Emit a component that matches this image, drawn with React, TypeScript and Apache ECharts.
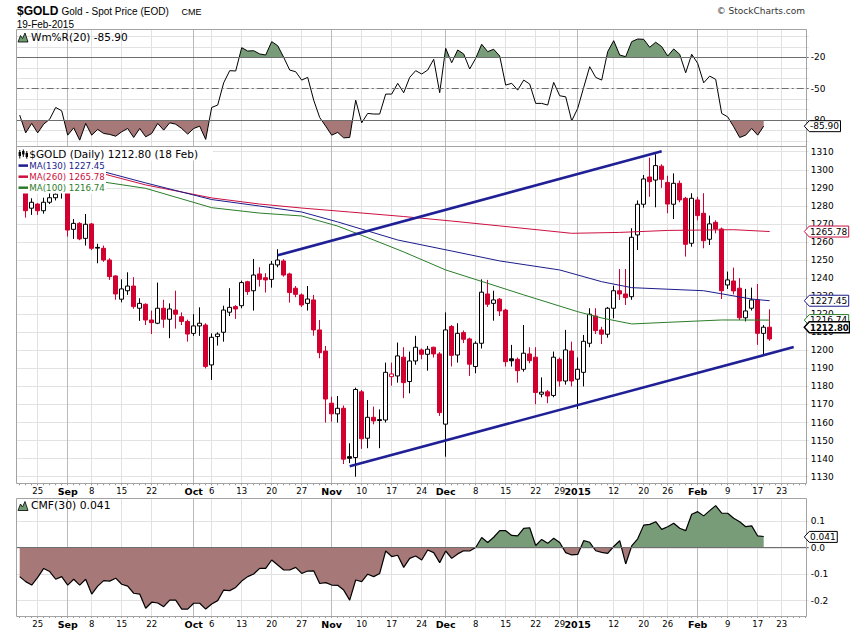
import React, { useEffect, useRef } from "react";
import * as echarts from "echarts";

// ---------------- data ----------------
const AUG_DAYS = [20, 21, 22, 25, 26, 27, 28, 29];
const SEP_DAYS = [2, 3, 4, 5, 8, 9, 10, 11, 12, 15, 16, 17, 18, 19, 22, 23, 24, 25, 26, 29, 30];
const OCT_DAYS = [1, 2, 3, 6, 7, 8, 9, 10, 13, 14, 15, 16, 17, 20, 21, 22, 23, 24, 27, 28, 29, 30, 31];
const NOV_DAYS = [3, 4, 5, 6, 7, 10, 11, 12, 13, 14, 17, 18, 19, 20, 21, 24, 25, 26, 28];
const DEC_DAYS = [1, 2, 3, 4, 5, 8, 9, 10, 11, 12, 15, 16, 17, 18, 19, 22, 23, 24, 26, 29, 30, 31];
const JAN_DAYS = [2, 5, 6, 7, 8, 9, 12, 13, 14, 15, 16, 20, 21, 22, 23, 26, 27, 28, 29, 30];
const FEB_DAYS = [2, 3, 4, 5, 6, 9, 10, 11, 12, 13, 17, 18, 19, 20, 23, 24, 25, 26, 27];

const OPEN = [
  1296, 1293, 1278.7, 1281, 1277.3, 1282, 1284.5, 1288, 1288, 1267,
  1270.3, 1262, 1270, 1257, 1256.5, 1250, 1241.2, 1228.3, 1233, 1235.6,
  1223.3, 1225.5, 1216.8, 1215, 1223.3, 1217.2, 1222.3, 1218.6, 1216, 1209.4,
  1213.5, 1214, 1191.9, 1207.6, 1210, 1221.1, 1224.2, 1224.7, 1238, 1233,
  1242.3, 1240.2, 1239.3, 1247.3, 1249.5, 1242.3, 1234.4, 1230.7, 1226, 1227.9,
  1211.3, 1199.6, 1170.7, 1164.8, 1167.9, 1141.1, 1140.6, 1177, 1151.3, 1162.9,
  1161.6, 1161.4, 1185.4, 1185.8, 1196.2, 1182.7, 1194.1, 1200.2, 1197.8, 1201.7,
  1198, 1159.1, 1213.2, 1197.4, 1209.8, 1206.3, 1191, 1203.9, 1231.2, 1226,
  1228.3, 1222.3, 1195.3, 1195, 1189.5, 1198, 1196.2, 1175.7, 1177, 1175,
  1195, 1183, 1199.6, 1184, 1187.8, 1203.9, 1219, 1211.3, 1208.9, 1223.3,
  1233, 1231.2, 1229.7, 1263.9, 1280.9, 1296, 1294.3, 1302, 1293, 1280.9,
  1292.5, 1284.2, 1259.3, 1283.3, 1275.9, 1261.5, 1270.9, 1267.2, 1236.2, 1238.4,
  1234.4, 1218, 1223.3, 1227.9, 1209.4, 1212.8,
];
const HIGH = [
  1298, 1294, 1284.2, 1281.5, 1284.5, 1288, 1292, 1292, 1290, 1272.7,
  1271, 1275.5, 1270.5, 1259, 1258, 1251, 1241.5, 1239.3, 1243.2, 1240.5,
  1228.8, 1226, 1222, 1237.5, 1228, 1226, 1233, 1221, 1217, 1220,
  1223.8, 1215, 1209.4, 1210, 1224.7, 1234.4, 1225, 1238.6, 1238.5, 1250.6,
  1246, 1242.7, 1249.5, 1256, 1250.5, 1243, 1235.6, 1231.5, 1235.6, 1230.7,
  1216.8, 1202.4, 1174.3, 1174.7, 1169.4, 1148.5, 1179.3, 1178, 1172.5, 1168.8,
  1167.3, 1193.2, 1193.2, 1204.3, 1201.7, 1199.3, 1208, 1201, 1202.4, 1202,
  1199, 1221, 1214, 1215, 1211, 1207, 1205, 1239.3, 1239, 1233,
  1229, 1223, 1203, 1196, 1214, 1201.7, 1201.7, 1185, 1178, 1199.3,
  1196, 1211.3, 1204.8, 1196, 1208.5, 1223.3, 1223.3, 1213, 1224, 1235.8,
  1245, 1245, 1267.6, 1283, 1297.1, 1306.7, 1308.6, 1303, 1296.7, 1298,
  1294, 1285, 1287, 1285, 1287, 1274.6, 1272, 1268, 1243.6, 1245.8,
  1240, 1234, 1234.7, 1236.7, 1214, 1222.7,
];
const LOW = [
  1291, 1273.5, 1275, 1275, 1275.7, 1281, 1283, 1284, 1263, 1261.7,
  1261, 1258, 1255.5, 1248.2, 1249, 1239, 1228, 1226.6, 1230.7, 1223,
  1216.3, 1214, 1209, 1214.5, 1212.5, 1206.7, 1212, 1214, 1204.8, 1208,
  1208, 1190, 1183.6, 1202.6, 1204.8, 1219, 1217.4, 1223.3, 1230.7, 1222,
  1235.3, 1232, 1234.7, 1246, 1240.8, 1226.4, 1229.4, 1224, 1222, 1208.1,
  1195.6, 1160, 1160.5, 1160, 1137, 1137.5, 1130, 1145.4, 1145.8, 1159,
  1145.8, 1160, 1180.4, 1182.1, 1173.5, 1176.2, 1192, 1195, 1188.7, 1196,
  1163.7, 1141.1, 1191.1, 1193.2, 1204, 1185.8, 1187.3, 1201, 1224, 1216.4,
  1219, 1191, 1191, 1182.1, 1188.2, 1192.8, 1170.1, 1174, 1170.7, 1174,
  1179.9, 1181, 1180, 1167.5, 1180, 1201.7, 1209, 1203.5, 1207, 1217.7,
  1227.9, 1225.1, 1228, 1255.6, 1279, 1285, 1279.2, 1290, 1275.9, 1272.7,
  1282, 1251.9, 1257.4, 1272, 1256.5, 1258.3, 1264.8, 1228.4, 1234, 1231,
  1216.8, 1216, 1222, 1203, 1197.4, 1205.3,
];
const CLOSE = [
  1293, 1277.3, 1282, 1277.3, 1282, 1284.5, 1286.5, 1287.5, 1266.6, 1270.3,
  1261.7, 1269.8, 1256.5, 1256.6, 1250, 1240.8, 1231.2, 1234, 1235.6, 1224.2,
  1226, 1216.8, 1215.3, 1223.3, 1217.2, 1222.9, 1220, 1216, 1209, 1213.5,
  1215, 1191, 1207.2, 1209, 1222.3, 1223.8, 1222.9, 1237.5, 1232.5, 1241.7,
  1239.3, 1239, 1247.7, 1250, 1241.7, 1232, 1231, 1225.1, 1228.4, 1211.3,
  1198.7, 1173, 1164.8, 1167.9, 1139.7, 1140.2, 1178.3, 1151, 1162.9, 1160.9,
  1161.1, 1187.8, 1186.9, 1196.9, 1182.1, 1194.1, 1201.7, 1197.8, 1200.6, 1198,
  1165.5, 1211.3, 1197.2, 1209.4, 1206.1, 1192.3, 1203.9, 1232.2, 1225.5, 1227.9,
  1221.8, 1193.7, 1194.2, 1188.7, 1198.4, 1194.3, 1176.6, 1176.8, 1174.7, 1196.2,
  1183, 1200.2, 1183, 1189.5, 1205, 1220, 1210.9, 1208.9, 1223.3, 1233,
  1231.2, 1229.2, 1262.6, 1280.9, 1294.9, 1293.4, 1302.3, 1294.7, 1281, 1292.5,
  1283.3, 1258.7, 1284.2, 1274.6, 1260.7, 1270, 1267.2, 1233, 1239, 1232.9,
  1218, 1221.8, 1227.9, 1209.4, 1212.8, 1206.3,
];

const WMR = [
  -75.3, -92.3, -83.3, -92.3, -84, -79.2, -68, -71.2, -94.5, -87.5,
  -99.3, -83.3, -94.5, -89, -92.9, -93.8, -95.5, -91.3, -88.1, -96.7,
  -88.1, -96.1, -92.9, -83.3, -89.7, -82.7, -84, -88.1, -93.5, -88.1,
  -85.9, -98.6, -68, -65.7, -44.4, -32.8, -33.1, -10.8, -14, -13.7,
  -16.8, -17.8, -5, -8.9, -20, -32.2, -33.8, -41.8, -39.2, -61,
  -77.6, -85.9, -94.5, -91.9, -97.1, -96.7, -61, -82.7, -73.7, -74.3,
  -74.3, -55.2, -55.2, -44.9, -53.9, -39.2, -32.8, -36, -32.2,
  -21.9, -53.9, -11.4, -25.2, -13, -16.8, -31.2, -21, -7.5, -14.6,
  -12.3, -18.8, -46.6, -44.9, -51.4, -41.8, -45.6, -64.1, -64.1, -65.7,
  -44, -56.8, -57.8, -80.8, -68.9, -48.8, -29, -39.2, -41.8, -14.6,
  -4.1, -17.8, -19.4, -5, -2.5, -2.8, -10.4, -5.6, -9.8, -18.8,
  -12, -17.1, -34.8, -17.1, -25.8, -44.4, -38, -41.1, -73.7, -77,
  -86.5, -96.7, -94.5, -88.1, -94.5, -85.9,
];

const CMF = [
  -0.111, -0.13, -0.143, -0.114, -0.08, -0.092, -0.121, -0.111, -0.143, -0.121,
  -0.143, -0.121, -0.177, -0.147, -0.126, -0.128, -0.117, -0.14, -0.147, -0.174,
  -0.177, -0.231, -0.208, -0.211, -0.225, -0.2, -0.2, -0.234, -0.234, -0.212,
  -0.212, -0.234, -0.215, -0.202, -0.162, -0.164, -0.152, -0.128, -0.111, -0.101,
  -0.08, -0.08, -0.048, -0.067, -0.086, -0.086, -0.076, -0.099, -0.09, -0.089,
  -0.137, -0.134, -0.143, -0.144, -0.162, -0.2, -0.124, -0.13, -0.102, -0.111,
  -0.099, -0.014, -0.035, -0.03, -0.076, -0.042, -0.033, -0.048,
  -0.01, -0.02, -0.058, -0.014, -0.042, -0.025, -0.013, -0.014, -0.001, 0.037,
  0.018, 0.038, 0.063, 0.063, 0.045, 0.043, 0.072, 0.074, 0.007, 0.03,
  0.015, 0.034, 0.018, -0.02, -0.029, -0.027, 0.025, 0.019, -0.013, -0.019,
  -0.023, 0.003, 0.025, -0.063, 0.005, 0.032, 0.084, 0.087, 0.097, 0.068,
  0.078, 0.091, 0.072, 0.063, 0.125, 0.135, 0.119, 0.139, 0.158, 0.129,
  0.129, 0.11, 0.097, 0.078, 0.081, 0.043, 0.041,
];

// moving averages read at intervals: [day index, value]
const MA130_POINTS = [[14, 1298.9], [21, 1292.7], [32, 1283.5], [40, 1279.9], [47, 1276.6], [53, 1271.1], [63, 1261.1], [72, 1255], [80, 1249.5], [90, 1244.5], [97, 1238], [102, 1234.7], [114, 1233], [122, 1228.4], [125, 1227.45]];
const MA260_POINTS = [[14, 1297.7], [21, 1291.6], [32, 1284.4], [40, 1281], [47, 1278.8], [55, 1276.6], [64, 1274.1], [72, 1271.6], [80, 1268.9], [92, 1264.8], [100, 1265.3], [108, 1266.4], [119, 1266.8], [125, 1265.78]];
const MA100_POINTS = [[14, 1293.2], [21, 1289.7], [32, 1279], [40, 1276], [47, 1274.4], [53, 1268.8], [59, 1261.1], [64, 1254.5], [71, 1244.5], [78, 1237.1], [84, 1230.7], [93, 1221.4], [97, 1217.9], [102, 1214.6], [108, 1215.5], [117, 1216.8], [125, 1216.74]];

const TREND_UPPER = [[43, 1252.6], [107, 1310.2]];
const TREND_LOWER = [[55, 1135.8], [129, 1201.8]];

const WEEK_LABELS = [
  ["2014-08-25", "25"], ["2014-09-08", "8"], ["2014-09-15", "15"], ["2014-09-22", "22"],
  ["2014-10-06", "6"], ["2014-10-13", "13"], ["2014-10-20", "20"], ["2014-10-27", "27"],
  ["2014-11-10", "10"], ["2014-11-17", "17"], ["2014-11-24", "24"],
  ["2014-12-08", "8"], ["2014-12-15", "15"], ["2014-12-22", "22"], ["2014-12-29", "29"],
  ["2015-01-12", "12"], ["2015-01-20", "20"], ["2015-01-26", "26"],
  ["2015-02-09", "9"], ["2015-02-17", "17"], ["2015-02-23", "23"],
];
const MONTH_LABELS = [
  ["2014-09-02", "Sep"], ["2014-10-01", "Oct"], ["2014-11-03", "Nov"],
  ["2014-12-01", "Dec"], ["2015-01-02", "2015"], ["2015-02-02", "Feb"],
];

// ---------------- styling ----------------
const FONT = '"DejaVu Sans", Verdana, sans-serif';
const ARIAL = '"Liberation Sans", Arial, sans-serif';
const RED = "#d20030";
const NAVY = "#1c1c8c";
const MA_RED = "#cc1040";
const MA_GREEN = "#2a7d2a";
const FILL_GREEN = "#789c78";
const FILL_RED = "#a67877";
const GRID_LIGHT = "#e2e2e2";
const GRID_MONTH = "#bababa";
const REF_LINE = "#6e6e6e";

const pad = (n: number) => (n < 10 ? "0" + n : "" + n);
const CATS: string[] = [
  ...AUG_DAYS.map((d) => `2014-08-${pad(d)}`),
  ...SEP_DAYS.map((d) => `2014-09-${pad(d)}`),
  ...OCT_DAYS.map((d) => `2014-10-${pad(d)}`),
  ...NOV_DAYS.map((d) => `2014-11-${pad(d)}`),
  ...DEC_DAYS.map((d) => `2014-12-${pad(d)}`),
  ...JAN_DAYS.map((d) => `2015-01-${pad(d)}`),
  ...FEB_DAYS.map((d) => `2015-02-${pad(d)}`),
];
const N = CATS.length;

function fromPoints(points: number[][]) {
  const arr: (number | null)[] = new Array(N).fill(null);
  points.forEach(([i, v]) => (arr[i] = v));
  return arr;
}

const weekSet = new Set(WEEK_LABELS.map((l) => l[0]));
const monthSet = new Set(MONTH_LABELS.map((l) => l[0]));
const labelText = new Map<string, string>([...WEEK_LABELS, ...MONTH_LABELS] as any);

function buildOption() {
  const dataX = { left: 16.7, width: 792 };
  const bgX = { left: 19.7, width: 786 };
  const grid = [
    { ...bgX, top: 29.3, height: 117.4 }, // 0 bg %R
    { ...bgX, top: 146.7, height: 336.6 }, // 1 bg main
    { ...bgX, top: 498.3, height: 117.7 }, // 2 bg cmf
    { ...dataX, top: 36.4, height: 104.5 }, // 3 %R
    { ...dataX, top: 36.4, height: 20.9 }, // 4 %R green fill
    { ...dataX, top: 120.0, height: 20.9 }, // 5 %R red fill
    { ...dataX, top: 151.7, height: 325 }, // 6 main
    { ...dataX, top: 498.3, height: 117.7 }, // 7 cmf line
    { ...dataX, top: 498.3, height: 49 }, // 8 cmf green
    { ...dataX, top: 547.3, height: 68.7 }, // 9 cmf red
    { ...dataX, top: 521.3, height: 79.4 }, // 10 cmf labels
  ];

  const xAxis: any[] = [];
  const bgBottom = (gi: number, labels: boolean, margin: number) => ({
    type: "category", gridIndex: gi, data: CATS, boundaryGap: false, position: "bottom",
    axisLine: { show: false },
    axisTick: { show: labels, interval: 0, length: 2, lineStyle: { color: "#9a9a9a" } },
    axisLabel: {
      show: labels, margin, interval: (_i: number, v: string) => labelText.has(v),
      fontFamily: FONT, fontSize: 8.5, color: "#000",
      formatter: (v: string) => (monthSet.has(v) ? `{m|${labelText.get(v)}}` : labelText.get(v) || ""),
      rich: { m: { fontFamily: FONT, fontSize: 9.5, fontWeight: "bold", color: "#000" } },
    },
    splitLine: { show: true, interval: (_i: number, v: string) => weekSet.has(v), lineStyle: { color: GRID_LIGHT, width: 1 } },
  });
  const bgTop = (gi: number) => ({
    type: "category", gridIndex: gi, data: CATS, boundaryGap: false, position: "top",
    axisLine: { show: false }, axisTick: { show: false }, axisLabel: { show: false },
    splitLine: { show: true, interval: (_i: number, v: string) => monthSet.has(v), lineStyle: { color: GRID_MONTH, width: 1 } },
  });
  xAxis.push(bgBottom(0, false, 0), bgTop(0));
  xAxis.push(bgBottom(1, true, 3.5), bgTop(1));
  xAxis.push(bgBottom(2, true, 3), bgTop(2));
  for (let gi = 3; gi <= 10; gi++) {
    xAxis.push({ type: "category", gridIndex: gi, data: CATS, boundaryGap: true, show: false });
  }
  const xi = (gi: number) => gi + 3;

  const hidden = (gi: number, min: number, max: number) => ({ type: "value", gridIndex: gi, min, max, show: false });
  const labelAxis = (gi: number, min: number, max: number, interval: number, fmt: (v: number) => string) => ({
    type: "value", gridIndex: gi, position: "right", min, max, interval,
    axisLine: { show: false }, axisTick: { show: false },
    axisLabel: { margin: 2, fontFamily: FONT, fontSize: 9, color: "#000", formatter: fmt },
    splitLine: { show: true, lineStyle: { color: GRID_LIGHT, width: 1 } },
  });
  const yAxis = [
    hidden(0, 0, 1), hidden(1, 0, 1), hidden(2, 0, 1),
    labelAxis(3, -100, 0, 10, (v) => ([-20, -50, -80].indexOf(Math.round(v)) >= 0 ? String(Math.round(v)) : "")),
    hidden(4, -20, 0),
    hidden(5, -100, -80),
    labelAxis(6, 1130, 1310, 10, (v) => String(Math.round(v))),
    hidden(7, -0.2602, 0.1856),
    hidden(8, 0, 0.1856),
    hidden(9, -0.2602, 0),
    labelAxis(10, -0.2, 0.1, 0.1, (v) => (Math.abs(v) < 1e-9 ? "0.0" : v.toFixed(1))),
  ];

  const candleData = OPEN.map((o, i) => {
    const c = CLOSE[i];
    const prev = i > 0 ? CLOSE[i - 1] : o;
    const stroke = c >= prev ? "#000000" : RED;
    const fill = c >= o ? "#ffffff" : stroke;
    return {
      value: [o, c, LOW[i], HIGH[i]],
      itemStyle: { color: fill, color0: fill, borderColor: stroke, borderColor0: stroke, borderWidth: 1 },
    };
  });

  const lineBase = { type: "line", showSymbol: false, symbol: "none", silent: true, animation: false };
  const series: any[] = [
    { ...lineBase, xAxisIndex: xi(4), yAxisIndex: 4, data: WMR, z: 2, lineStyle: { width: 0 }, areaStyle: { color: FILL_GREEN, opacity: 1, origin: "start" } },
    { ...lineBase, xAxisIndex: xi(5), yAxisIndex: 5, data: WMR, z: 2, lineStyle: { width: 0 }, areaStyle: { color: FILL_RED, opacity: 1, origin: "end" } },
    {
      ...lineBase, xAxisIndex: xi(3), yAxisIndex: 3, data: WMR, z: 4, lineStyle: { color: "#000", width: 1 },
      markLine: {
        silent: true, symbol: ["none", "none"], label: { show: false }, animation: false,
        lineStyle: { color: REF_LINE, width: 1, type: "solid" },
        data: [{ yAxis: -20 }, { yAxis: -50, lineStyle: { color: REF_LINE, width: 1, type: [7, 3, 2, 3] } }, { yAxis: -80 }],
      },
    },
    { type: "candlestick", xAxisIndex: xi(6), yAxisIndex: 6, barWidth: 5, data: candleData, z: 3, silent: true, animation: false },
    { ...lineBase, xAxisIndex: xi(6), yAxisIndex: 6, data: fromPoints(MA260_POINTS), connectNulls: true, z: 4, lineStyle: { color: MA_RED, width: 1 } },
    { ...lineBase, xAxisIndex: xi(6), yAxisIndex: 6, data: fromPoints(MA130_POINTS), connectNulls: true, z: 4, lineStyle: { color: NAVY, width: 1 } },
    { ...lineBase, xAxisIndex: xi(6), yAxisIndex: 6, data: fromPoints(MA100_POINTS), connectNulls: true, z: 4, lineStyle: { color: MA_GREEN, width: 1 } },
    { ...lineBase, xAxisIndex: xi(6), yAxisIndex: 6, data: fromPoints(TREND_UPPER), connectNulls: true, clip: false, z: 5, lineStyle: { color: "#1f1f96", width: 2.6 } },
    { ...lineBase, xAxisIndex: xi(6), yAxisIndex: 6, data: fromPoints(TREND_LOWER), connectNulls: true, clip: false, z: 5, lineStyle: { color: "#1f1f96", width: 2.6 } },
    { ...lineBase, xAxisIndex: xi(8), yAxisIndex: 8, data: CMF, z: 2, lineStyle: { width: 0 }, areaStyle: { color: FILL_GREEN, opacity: 1, origin: "start" } },
    { ...lineBase, xAxisIndex: xi(9), yAxisIndex: 9, data: CMF, z: 2, lineStyle: { width: 0 }, areaStyle: { color: FILL_RED, opacity: 1, origin: "end" } },
    {
      ...lineBase, xAxisIndex: xi(7), yAxisIndex: 7, data: CMF, z: 4, lineStyle: { color: "#000", width: 1.2 },
      markLine: {
        silent: true, symbol: ["none", "none"], label: { show: false }, animation: false,
        lineStyle: { color: REF_LINE, width: 1, type: "solid" }, data: [{ yAxis: 0 }],
      },
    },
  ];

  return { animation: false, backgroundColor: "#ffffff", grid, xAxis, yAxis, series };
}

function txt(text: string, x: number, y: number, font: string, fill = "#000", align = "left") {
  return {
    type: "text", z: 60, silent: true,
    style: { text, x, y, font, fill, align, verticalAlign: "middle", textAlign: align, textVerticalAlign: "middle" },
  };
}

function staticGraphics() {
  const g: any[] = [];
  // panel frames
  [[29.5, 146.5], [146.5, 483.5], [498.5, 616.5]].forEach(([t, b]) =>
    g.push({ type: "rect", z: 40, silent: true, shape: { x: 16.5, y: t, width: 790, height: b - t }, style: { fill: "none", stroke: "#a3a3a3", lineWidth: 1 } })
  );
  // legend background boxes in price panel
  g.push({ type: "rect", z: 50, silent: true, shape: { x: 17, y: 147, width: 89, height: 46.5 }, style: { fill: "#fff" } });
  g.push({ type: "rect", z: 50, silent: true, shape: { x: 17, y: 147, width: 196, height: 13.5 }, style: { fill: "#fff" } });

  // title block
  g.push(txt("$GOLD", 17, 11, `bold 12px ${ARIAL}`));
  g.push(txt("Gold - Spot Price (EOD)", 61.5, 11.3, `10px ${ARIAL}`));
  g.push(txt("CME", 181.5, 11.6, `9px ${ARIAL}`));
  g.push(txt("19-Feb-2015", 16.7, 24, `10px ${ARIAL}`));
  g.push(txt("\u00A9 StockCharts.com", 805, 10.7, `9px ${FONT}`, "#333", "right"));

  // indicator legends
  const mountain = (dy: number) => ({
    type: "polygon", z: 60, silent: true,
    shape: { points: [[18, 42 + dy], [20.5, 35.5 + dy], [22.5, 38.5 + dy], [25, 33 + dy], [28, 42 + dy]] },
    style: { fill: "#6f9a6f", stroke: "#000", lineWidth: 0.8 },
  });
  g.push(mountain(0));
  g.push(txt(`Wm%R(20) ${WMR[WMR.length - 1].toFixed(2)}`, 31, 36.7, `10.5px ${FONT}`));
  g.push(mountain(468.5));
  g.push(txt(`CMF(30) ${CMF[CMF.length - 1].toFixed(3)}`, 31, 505.2, `10.8px ${FONT}`));

  // price legend icon (small candles)
  [[19.8, 150, 158.5, 152, 156], [23.3, 149.5, 157, 151, 154.5], [26.8, 151, 158.8, 153, 157]].forEach(([x, y1, y2, b1, b2]) => {
    g.push({ type: "line", z: 60, silent: true, shape: { x1: x, y1, x2: x, y2 }, style: { stroke: "#000", lineWidth: 1 } });
    g.push({ type: "rect", z: 60, silent: true, shape: { x: x - 1.2, y: b1, width: 2.4, height: b2 - b1 }, style: { fill: "#000" } });
  });
  const last = OPEN.length - 2; // 18 Feb close
  g.push(txt(`$GOLD (Daily) ${CLOSE[last].toFixed(2)} (18 Feb)`, 29.3, 154, `10.5px ${FONT}`));
  const maRows = [
    ["MA(130)", MA130_POINTS, NAVY, 165.6],
    ["MA(260)", MA260_POINTS, MA_RED, 176.7],
    ["MA(100)", MA100_POINTS, MA_GREEN, 187.7],
  ] as any[];
  maRows.forEach(([name, pts, color, y]) => {
    g.push({ type: "line", z: 60, silent: true, shape: { x1: 18.5, y1: y, x2: 28, y2: y }, style: { stroke: color, lineWidth: 2.5 } });
    g.push(txt(`${name} ${pts[pts.length - 1][1].toFixed(2)}`, 29.3, y, `8.7px ${FONT}`, color));
  });
  return g;
}

export default function App() {
  const ref = useRef<HTMLDivElement>(null);
  useEffect(() => {
    document.body.style.margin = "0";
    const el = ref.current as HTMLDivElement;
    const chart = echarts.init(el, undefined, { renderer: "svg", width: 850, height: 633 });
    chart.setOption(buildOption());

    const canvas = document.createElement("canvas");
    const ctx = canvas.getContext("2d") as CanvasRenderingContext2D;
    const measure = (font: string, s: string) => {
      ctx.font = font;
      return ctx.measureText(s).width;
    };
    const lastIdx = OPEN.length - 2;
    const tags = [
      { axis: 3, value: WMR[WMR.length - 1], text: WMR[WMR.length - 1].toFixed(2), color: "#000", bold: false },
      { axis: 6, value: MA260_POINTS[MA260_POINTS.length - 1][1], text: MA260_POINTS[MA260_POINTS.length - 1][1].toFixed(2), color: MA_RED, bold: false },
      { axis: 6, value: MA130_POINTS[MA130_POINTS.length - 1][1], text: MA130_POINTS[MA130_POINTS.length - 1][1].toFixed(2), color: NAVY, bold: false },
      { axis: 6, value: MA100_POINTS[MA100_POINTS.length - 1][1], text: MA100_POINTS[MA100_POINTS.length - 1][1].toFixed(2), color: MA_GREEN, bold: false },
      { axis: 6, value: CLOSE[lastIdx], text: CLOSE[lastIdx].toFixed(2), color: "#000", bold: true },
      { axis: 10, value: CMF[CMF.length - 1], text: CMF[CMF.length - 1].toFixed(3), color: "#000", bold: false },
    ];
    const g = staticGraphics();
    tags.forEach((t, k) => {
      const y = chart.convertToPixel({ yAxisIndex: t.axis } as any, t.value as any) as unknown as number;
      const font = t.bold ? `bold 8.5px ${FONT}` : `9px ${FONT}`;
      const w = measure(font, t.text);
      const tip = 804.3, x0 = tip + 5, x1 = Math.min(849.5, x0 + w + 2.2), h = 5.5;
      g.push({
        type: "polygon", z: 70 + k * 2, silent: true,
        shape: { points: [[tip, y], [x0, y - h], [x1, y - h], [x1, y + h], [x0, y + h]] },
        style: { fill: "#fff", stroke: t.color, lineWidth: t.bold ? 1.5 : 1 },
      });
      const te: any = txt(t.text, x0 + 0.7, y + 0.3, font);
      te.z = 71 + k * 2;
      g.push(te);
    });
    chart.setOption({ graphic: { elements: g } });
    return () => chart.dispose();
  }, []);
  return <div ref={ref} style={{ position: "fixed", left: 0, top: 0, width: 850, height: 633, background: "#fff" }} />;
}
